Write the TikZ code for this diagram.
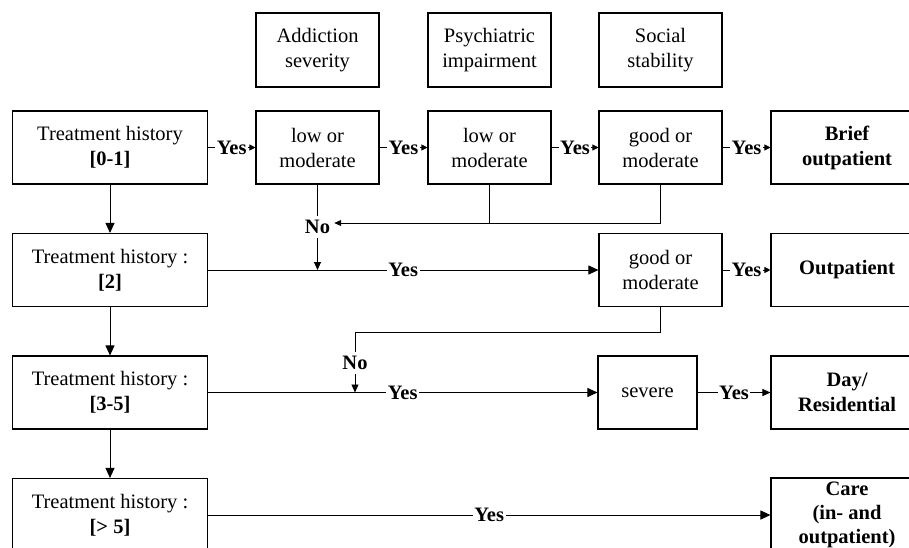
\documentclass[tikz,border=0pt]{standalone}
\usepackage{fontspec}
\setmainfont{Liberation Serif}
\usetikzlibrary{arrows.meta}
\begin{document}
\begin{tikzpicture}[x=1pt,y=-1pt,
  box/.style={draw,line width=1.1pt,align=center,inner sep=0pt,minimum height=73pt,font=\fontsize{20.5}{25}\selectfont},
  outbox/.style={box,minimum width=152pt,font=\bfseries\fontsize{20.5}{25}\selectfont},
  lbl/.style={font=\bfseries\fontsize{20.5}{25}\selectfont,fill=white,inner sep=1.5pt},
  nolbl/.style={font=\bfseries\fontsize{20.5}{25}\selectfont,inner sep=4pt},
  conn/.style={line width=0.9pt},
  bigtip/.style={-{Triangle[length=10pt,width=9pt]}},
  midtip/.style={-{Triangle[length=8pt,width=7pt]}},
  notip/.style={-{Triangle[length=7pt,width=6pt]}},
  smalltip/.style={-{Triangle[length=6pt,width=6pt]}}
]
\useasboundingbox (0,0) rectangle (909,547);
\clip (0,0) rectangle (909,547);

% header boxes
\node[box,minimum width=123pt,minimum height=74pt] (hAS) at (317.5,50) {Addiction\\severity};
\node[box,minimum width=123pt,minimum height=74pt] (hPI) at (489.5,50) {Psychiatric\\impairment};
\node[box,minimum width=123pt,minimum height=74pt] (hSS) at (660.5,50) {Social\\stability};

% row 1
\node[box,minimum width=195pt] (t1) at (110,147.5) {Treatment history\\\textbf{[0-1]}};
\node[box,minimum width=123pt] (as1) at (317.5,147.5) {low or\\moderate};
\node[box,minimum width=123pt] (pi1) at (489.5,147.5) {low or\\moderate};
\node[box,minimum width=123pt] (ss1) at (660.5,147.5) {good or\\moderate};
\node[outbox] (o1) at (847,147.5) {Brief\\outpatient};

% row 2
\node[box,minimum width=195pt] (t2) at (110,270) {Treatment history :\\\textbf{[2]}};
\node[box,minimum width=123pt] (ss2) at (660.5,270) {good or\\moderate};
\node[outbox] (o2) at (847,270) {Outpatient};

% row 3
\node[box,minimum width=195pt] (t3) at (110,392.5) {Treatment history :\\\textbf{[3-5]}};
\node[box,minimum width=99pt] (sev) at (647.5,392.5) {severe};
\node[outbox] (o3) at (847,392.5) {Day/\\Residential};

% row 4
\node[box,minimum width=195pt] (t4) at (110,515) {Treatment history :\\\textbf{[> 5]}};
\node[outbox,minimum height=74pt,font=\bfseries\fontsize{20.5}{24}\selectfont] (o4) at (847,515) {Care\\(in- and\\outpatient)};

% No labels
\node[nolbl] (no1) at (317.5,227) {No};
\node[nolbl] (no2) at (355,363) {No};
\coordinate (r1) at (0,223);
\coordinate (r2) at (0,332);

% row 1 connectors
\draw[conn,smalltip] (t1) -- node[lbl]{Yes} (as1);
\draw[conn,smalltip] (as1) -- node[lbl]{Yes} (pi1);
\draw[conn,smalltip] (pi1) -- node[lbl]{Yes} (ss1);
\draw[conn,smalltip] (ss1) -- node[lbl]{Yes} (o1);

% vertical left arrows
\draw[conn,bigtip] (t1) -- (t2);
\draw[conn,bigtip] (t2) -- (t3);
\draw[conn,bigtip] (t3) -- (t4);

% No loop 1
\draw[conn] (as1.south) -- (no1.north);
\draw[conn,notip] (ss1.south) |- (no1.east |- r1);
\draw[conn] (pi1.south) -- (pi1.south |- r1);
\draw[conn,midtip] (no1.south) -- (no1.south |- t2);

% row 2
\draw[conn,bigtip] (t2) -- node[lbl]{Yes} (ss2);
\draw[conn,smalltip] (ss2) -- node[lbl]{Yes} (o2);

% No loop 2
\draw[conn] (ss2.south) |- (no2.north |- r2) -- (no2.north);
\draw[conn,midtip] (no2.south) -- (no2.south |- t3);

% row 3
\draw[conn,bigtip] (t3) -- node[lbl]{Yes} (sev);
\draw[conn,midtip] (sev) -- node[lbl]{Yes} (o3);

% row 4
\draw[conn,bigtip] (t4) -- node[lbl]{Yes} (o4);
\end{tikzpicture}
\end{document}
